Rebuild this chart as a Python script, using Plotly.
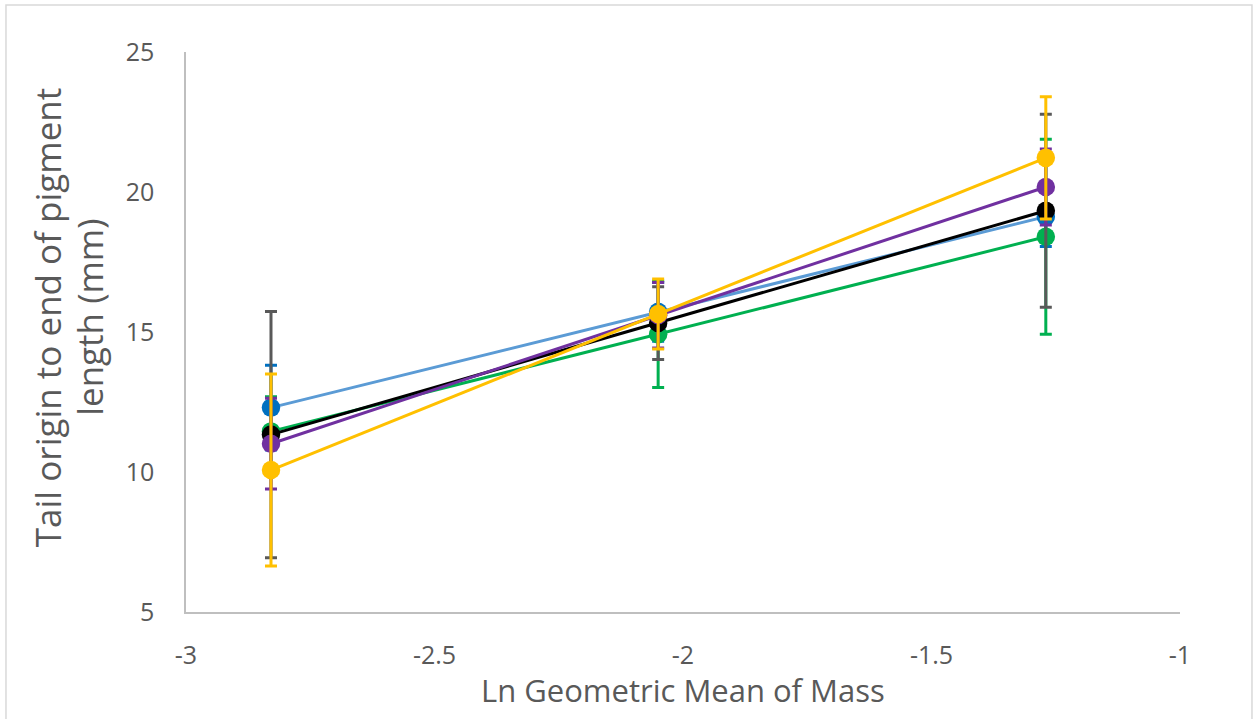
import plotly.graph_objects as go

# Ln geometric mean of mass for the three size classes
ln_mass = [-2.829, -2.050, -1.270]

# Tail origin to end of pigment length (mm) per series, with error bar half-widths
blue_vals = [12.30, 15.72, 19.12]
blue_err = [1.51, 1.05, 1.07]

green_vals = [11.45, 14.92, 18.40]
green_err = [1.24, 1.90, 3.48]

black_vals = [11.335, 15.32, 19.33]
black_err = [4.395, 1.30, 3.45]

purple_vals = [11.01, 15.60, 20.18]
purple_err = [1.62, 1.17, 1.36]

yellow_vals = [10.07, 15.64, 21.22]
yellow_err = [3.43, 1.25, 2.18]

x_ticks = [-3, -2.5, -2, -1.5, -1]
y_ticks = [5, 10, 15, 20, 25]

y_title_lines = ["Tail origin to end of pigment", "length (mm)"]
x_title = "Ln Geometric Mean of Mass"

series = [
    # (values, errors, line colour, marker colour, error colour)
    (blue_vals, blue_err, "#5B9BD5", "#0070C0", "#0070C0"),
    (green_vals, green_err, "#00B050", "#00B050", "#00B050"),
    (black_vals, black_err, "#000000", "#000000", "#595959"),
    (purple_vals, purple_err, "#7030A0", "#7030A0", "#7030A0"),
    (yellow_vals, yellow_err, "#FFC000", "#FFC000", "#FFC000"),
]

fig = go.Figure()
for vals, errs, line_c, mark_c, err_c in series:
    fig.add_trace(go.Scatter(
        x=ln_mass, y=vals, mode="lines+markers",
        line=dict(color=line_c, width=3),
        marker=dict(color=mark_c, size=18.5),
        error_y=dict(type="data", array=errs, visible=True,
                     color=err_c, thickness=3, width=6),
        showlegend=False,
    ))

font_family = "Open Sans"
text_grey = "#595959"
tick_font = dict(family=font_family, size=25, color=text_grey)

# y-axis title is set as two centred lines, one annotation per line
y_title_annots = [
    dict(text=line, xref="paper", yref="paper", x=xp, y=0.527,
         xanchor="center", yanchor="middle", textangle=-90, showarrow=False,
         font=dict(family=font_family, size=35, color=text_grey))
    for line, xp in zip(y_title_lines, [-0.1385, -0.0966])
]

fig.update_layout(
    width=1253, height=719,
    margin=dict(l=186, r=73, t=52, b=107),
    paper_bgcolor="white", plot_bgcolor="white",
    xaxis=dict(range=[-3, -1], tickvals=x_ticks,
               ticktext=[f"{v:g}" for v in x_ticks],
               showgrid=False, zeroline=False, showline=True,
               linecolor="#BFBFBF", linewidth=1.5, ticks="",
               tickfont=tick_font, ticklabelstandoff=20),
    yaxis=dict(range=[5, 25], tickvals=y_ticks,
               showgrid=False, zeroline=False, showline=True,
               linecolor="#BFBFBF", linewidth=1.5, ticks="",
               tickfont=tick_font, ticklabelstandoff=25),
    annotations=[
        dict(text=x_title, xref="paper", yref="paper",
             x=0.5, y=-0.139, xanchor="center", yanchor="middle",
             showarrow=False, font=dict(family=font_family, size=31, color=text_grey)),
    ] + y_title_annots,
    shapes=[
        dict(type="rect", xref="paper", yref="paper",
             x0=-0.1811, x1=1.0724, y0=-0.2, y1=1.0839,
             line=dict(color="#D9D9D9", width=1.5), layer="below"),
    ],
)

fig.write_html("out.html")
